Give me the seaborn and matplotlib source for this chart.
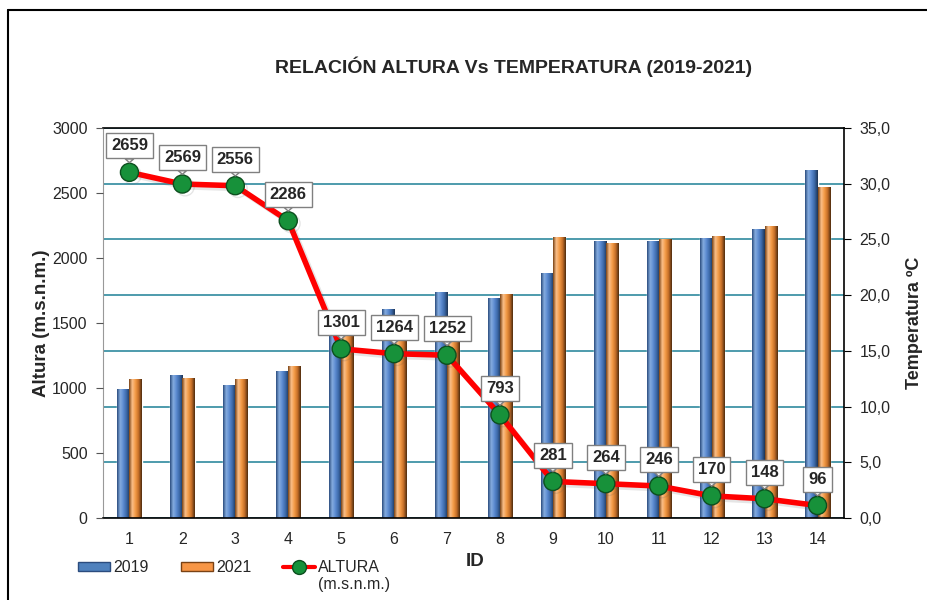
import numpy as np
import pandas as pd
import seaborn as sns
import matplotlib.pyplot as plt
import matplotlib.patheffects as pe
from matplotlib.colors import LinearSegmentedColormap
from matplotlib.lines import Line2D
from matplotlib.patches import Patch
from matplotlib.ticker import FuncFormatter

# Data
ids = list(range(1, 15))
temp_2019 = [11.6, 12.8, 11.9, 13.2, 17.0, 18.8, 20.3, 19.7, 22.0, 24.9, 24.9, 25.1, 25.9, 31.2]
temp_2021 = [12.5, 12.55, 12.5, 13.6, 16.3, 15.9, 15.8, 20.1, 25.2, 24.7, 25.0, 25.3, 26.2, 29.7]
altura = [2659, 2569, 2556, 2286, 1301, 1264, 1252, 793, 281, 264, 246, 170, 148, 96]
years = ['2019', '2021']

df = pd.DataFrame({
    'ID': ids * 2,
    'Temp': temp_2019 + temp_2021,
    'Año': [years[0]] * len(ids) + [years[1]] * len(ids),
})

sns.set_style('white')
plt.rcParams['font.family'] = ['Liberation Sans', 'DejaVu Sans']

blue = '#4F81BD'
orange = '#F79646'
teal = '#3F93A6'

fig = plt.figure(figsize=(9.28, 6.0), dpi=100)
ax = fig.add_axes([103 / 928, 1 - 518 / 600, 741 / 928, 390 / 600])

# bars (temperature) on the primary axes
sns.barplot(data=df, x='ID', y='Temp', hue='Año', palette=[blue, orange],
            width=0.46, saturation=1, legend=False, ax=ax, zorder=2)

# cylinder-ish shading on the bars
cmaps = [
    LinearSegmentedColormap.from_list('b', ['#2B4C7E', '#86ADE0', '#5B8AD0', '#3B67A6', '#1D3454']),
    LinearSegmentedColormap.from_list('o', ['#7A4214', '#FBC08A', '#F39A45', '#C46E28', '#4E2C0E']),
]
grad = np.linspace(0, 1, 64).reshape(1, -1)
for cont, cm in zip(ax.containers, cmaps):
    for bar in cont:
        x0, w, h = bar.get_x(), bar.get_width(), bar.get_height()
        im = ax.imshow(grad, extent=[x0, x0 + w, 0, h], aspect='auto', cmap=cm,
                       zorder=2.1, interpolation='bilinear')
        im.set_clip_path(bar)

# altitude line on the twin axes (drawn on top of the bars)
ax2 = ax.twinx()

ax.set_xlim(-0.5, 13.5)
ax.set_ylim(0, 35)
ax.set_yticks(np.arange(0, 36, 5))
ax.yaxis.set_major_formatter(FuncFormatter(lambda v, p: f'{v:.1f}'.replace('.', ',')))
ax.yaxis.tick_right()
ax.yaxis.set_label_position('right')
ax.set_ylabel('Temperatura ºC', fontsize=13, fontweight='bold')
ax.yaxis.set_label_coords(1.083, 0.5)
ax.yaxis.grid(True, color=teal, lw=1.3)
ax.set_axisbelow(True)

ax.set_xticks(range(14))
ax.set_xticklabels([str(i) for i in ids])
ax.set_xticks(np.arange(-0.5, 14, 1), minor=True)
ax.tick_params(axis='x', which='major', length=0, pad=10, labelsize=11.5)
ax.tick_params(axis='x', which='minor', length=5, direction='out', color='#555555')
ax.tick_params(axis='y', length=5, direction='out', color='black', labelsize=11.5, pad=6)
ax.set_xlabel('ID', fontsize=13.5, fontweight='bold')
ax.xaxis.set_label_coords(0.502, -0.09)

for side in ['top', 'bottom', 'right']:
    ax.spines[side].set_color('black')
    ax.spines[side].set_linewidth(1.2)
ax.spines['left'].set_color('#999999')

sns.lineplot(x=np.arange(len(altura)), y=altura, ax=ax2, color='red', lw=4,
             marker='o', markersize=13, markerfacecolor='#17913A',
             markeredgecolor='#0C4F1E', markeredgewidth=1,
             path_effects=[pe.SimpleLineShadow(offset=(2, -2), alpha=0.15, shadow_color='#555555'),
                           pe.Normal()],
             zorder=3)
ax2.set_ylim(0, 3000)
ax2.set_yticks(np.arange(0, 3001, 500))
ax2.yaxis.tick_left()
ax2.yaxis.set_label_position('left')
ax2.set_ylabel('Altura (m.s.n.m.)', fontsize=13.5, fontweight='bold')
ax2.yaxis.set_label_coords(-0.072, 0.5)
ax2.tick_params(axis='y', length=5, direction='out', color='#555555', labelsize=11.5, pad=6)
for side in ax2.spines:
    ax2.spines[side].set_visible(False)

for i, v in enumerate(altura):
    ax2.annotate(str(v), xy=(i, v), xytext=(0, 19), textcoords='offset points',
                 ha='center', va='center', fontsize=12, fontweight='bold',
                 bbox=dict(boxstyle='square,pad=0.3', fc='white', ec='#808080', lw=1),
                 arrowprops=dict(arrowstyle='wedge,tail_width=0.5,shrink_factor=0.5',
                                 fc='white', ec='#808080', lw=1, shrinkA=0, shrinkB=7),
                 zorder=5)

fig.text(514 / 928, 1 - 67 / 600, 'RELACIÓN ALTURA Vs TEMPERATURA (2019-2021)',
         ha='center', va='center', fontsize=14, fontweight='bold')

handles = [
    Patch(facecolor=blue, edgecolor='#2B4C7E'),
    Patch(facecolor=orange, edgecolor='#7A4214'),
    Line2D([], [], color='red', lw=3, marker='o', markersize=10,
           markerfacecolor='#17913A', markeredgecolor='#0C4F1E'),
]
fig.legend(handles, ['2019', '2021', 'ALTURA'], loc='upper left',
           bbox_to_anchor=(64 / 928, 1 - 546 / 600), ncol=3, frameon=False,
           fontsize=11.5, handlelength=2.0, handleheight=0.5, handletextpad=0.2,
           columnspacing=2.0)
fig.text(318 / 928, 1 - 584 / 600, '(m.s.n.m.)', ha='left', va='center', fontsize=11.5)

# outer chart border (top and left visible)
fig.add_artist(Line2D([8 / 928, 8 / 928], [0, 1 - 10 / 600], color='black', lw=1.5))
fig.add_artist(Line2D([8 / 928, 1], [1 - 10 / 600, 1 - 10 / 600], color='black', lw=1.5))

fig.savefig('out.png', dpi=100)
